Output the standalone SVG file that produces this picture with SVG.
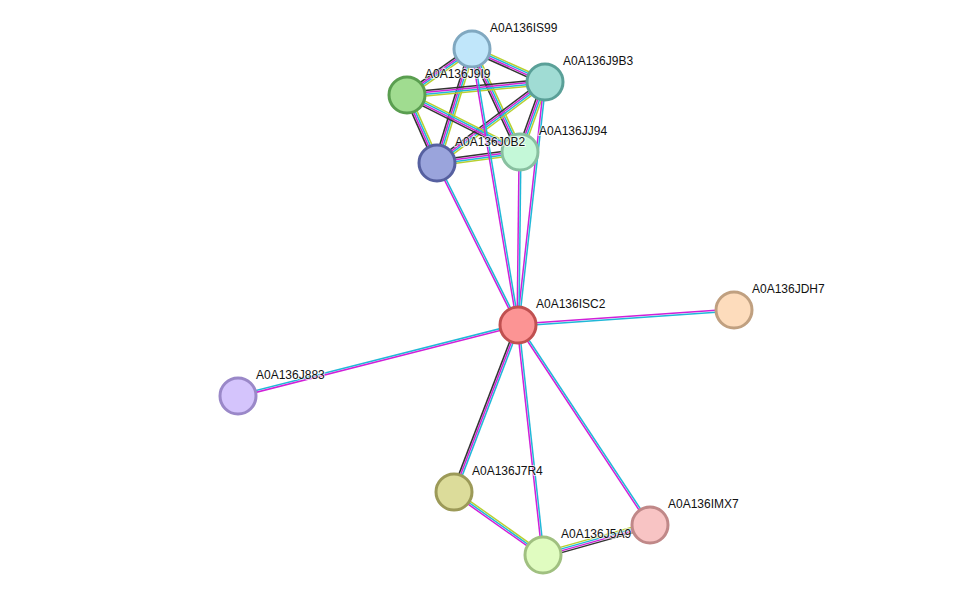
<svg xmlns="http://www.w3.org/2000/svg" width="976" height="601" viewBox="0 0 976 601">
<style>
.k{stroke:#333;stroke-width:1.5}.m{stroke:#d020d8;stroke-width:1.5}.c{stroke:#20b8d8;stroke-width:1.5}.y{stroke:#b8d030;stroke-width:1.5}
circle{stroke-width:3}
text{font-family:"Liberation Sans",Arial,sans-serif;font-size:12px;fill:#111;stroke:#fff;stroke-width:2;stroke-opacity:0.7;paint-order:stroke}
</style>
<rect width="976" height="601" fill="#fff"/>
<g id="connectors" fill="none">
<g><line class="y" x1="472" y1="49" x2="545" y2="82" transform="translate(1.11,-2.46)"/><line class="c" x1="472" y1="49" x2="545" y2="82" transform="translate(0.37,-0.82)"/><line class="m" x1="472" y1="49" x2="545" y2="82" transform="translate(-0.37,0.82)"/><line class="k" x1="472" y1="49" x2="545" y2="82" transform="translate(-1.11,2.46)"/></g>
<g><line class="y" x1="472" y1="49" x2="407" y2="95" transform="translate(1.56,2.2)"/><line class="c" x1="472" y1="49" x2="407" y2="95" transform="translate(0.52,0.73)"/><line class="m" x1="472" y1="49" x2="407" y2="95" transform="translate(-0.52,-0.73)"/><line class="k" x1="472" y1="49" x2="407" y2="95" transform="translate(-1.56,-2.2)"/></g>
<g><line class="y" x1="472" y1="49" x2="437" y2="163" transform="translate(2.58,0.8)"/><line class="c" x1="472" y1="49" x2="437" y2="163" transform="translate(0.86,0.27)"/><line class="m" x1="472" y1="49" x2="437" y2="163" transform="translate(-0.86,-0.27)"/><line class="k" x1="472" y1="49" x2="437" y2="163" transform="translate(-2.58,-0.8)"/></g>
<g><line class="y" x1="472" y1="49" x2="520" y2="152" transform="translate(2.45,-1.14)"/><line class="c" x1="472" y1="49" x2="520" y2="152" transform="translate(0.82,-0.38)"/><line class="m" x1="472" y1="49" x2="520" y2="152" transform="translate(-0.82,0.38)"/><line class="k" x1="472" y1="49" x2="520" y2="152" transform="translate(-2.45,1.14)"/></g>
<g><line class="y" x1="545" y1="82" x2="407" y2="95" transform="translate(0.26,2.68)"/><line class="c" x1="545" y1="82" x2="407" y2="95" transform="translate(0.09,0.9)"/><line class="m" x1="545" y1="82" x2="407" y2="95" transform="translate(-0.09,-0.9)"/><line class="k" x1="545" y1="82" x2="407" y2="95" transform="translate(-0.26,-2.68)"/></g>
<g><line class="y" x1="545" y1="82" x2="437" y2="163" transform="translate(1.62,2.16)"/><line class="c" x1="545" y1="82" x2="437" y2="163" transform="translate(0.54,0.72)"/><line class="m" x1="545" y1="82" x2="437" y2="163" transform="translate(-0.54,-0.72)"/><line class="k" x1="545" y1="82" x2="437" y2="163" transform="translate(-1.62,-2.16)"/></g>
<g><line class="y" x1="545" y1="82" x2="520" y2="152" transform="translate(2.55,0.92)"/><line class="c" x1="545" y1="82" x2="520" y2="152" transform="translate(0.85,0.31)"/><line class="m" x1="545" y1="82" x2="520" y2="152" transform="translate(-0.85,-0.31)"/><line class="k" x1="545" y1="82" x2="520" y2="152" transform="translate(-2.55,-0.92)"/></g>
<g><line class="y" x1="407" y1="95" x2="437" y2="163" transform="translate(2.48,-1.1)"/><line class="c" x1="407" y1="95" x2="437" y2="163" transform="translate(0.83,-0.37)"/><line class="m" x1="407" y1="95" x2="437" y2="163" transform="translate(-0.83,0.37)"/><line class="k" x1="407" y1="95" x2="437" y2="163" transform="translate(-2.48,1.1)"/></g>
<g><line class="y" x1="407" y1="95" x2="520" y2="152" transform="translate(1.22,-2.4)"/><line class="c" x1="407" y1="95" x2="520" y2="152" transform="translate(0.41,-0.8)"/><line class="m" x1="407" y1="95" x2="520" y2="152" transform="translate(-0.41,0.8)"/><line class="k" x1="407" y1="95" x2="520" y2="152" transform="translate(-1.22,2.4)"/></g>
<g><line class="y" x1="437" y1="163" x2="520" y2="152" transform="translate(0.36,2.68)"/><line class="c" x1="437" y1="163" x2="520" y2="152" transform="translate(0.12,0.9)"/><line class="m" x1="437" y1="163" x2="520" y2="152" transform="translate(-0.12,-0.9)"/><line class="k" x1="437" y1="163" x2="520" y2="152" transform="translate(-0.36,-2.68)"/></g>
<g><line class="m" x1="518" y1="325" x2="437" y2="163" transform="translate(-0.8,0.4)"/><line class="c" x1="518" y1="325" x2="437" y2="163" transform="translate(0.8,-0.4)"/></g>
<g><line class="m" x1="518" y1="325" x2="472" y2="49" transform="translate(-0.88,0.15)"/><line class="c" x1="518" y1="325" x2="472" y2="49" transform="translate(0.88,-0.15)"/></g>
<g><line class="m" x1="518" y1="325" x2="545" y2="82" transform="translate(-0.9,-0.1)"/><line class="c" x1="518" y1="325" x2="545" y2="82" transform="translate(0.9,0.1)"/></g>
<g><line class="m" x1="518" y1="325" x2="520" y2="152" transform="translate(-0.9,0)"/><line class="c" x1="518" y1="325" x2="520" y2="152" transform="translate(0.9,0)"/></g>
<g><line class="m" x1="518" y1="325" x2="734" y2="310" transform="translate(-0.06,-0.9)"/><line class="c" x1="518" y1="325" x2="734" y2="310" transform="translate(0.06,0.9)"/></g>
<g><line class="c" x1="518" y1="325" x2="238" y2="396" transform="translate(-0.22,-0.87)"/><line class="m" x1="518" y1="325" x2="238" y2="396" transform="translate(0.22,0.87)"/></g>
<g><line class="c" x1="518" y1="325" x2="454" y2="492" transform="translate(1.68,0.64)"/><line class="m" x1="518" y1="325" x2="454" y2="492"/><line class="k" x1="518" y1="325" x2="454" y2="492" transform="translate(-1.68,-0.64)"/></g>
<g><line class="c" x1="518" y1="325" x2="543" y2="555" transform="translate(0.9,-0.1)"/><line class="m" x1="518" y1="325" x2="543" y2="555" transform="translate(-0.9,0.1)"/></g>
<g><line class="m" x1="518" y1="325" x2="650" y2="525" transform="translate(-0.75,0.5)"/><line class="c" x1="518" y1="325" x2="650" y2="525" transform="translate(0.75,-0.5)"/></g>
<g><line class="y" x1="454" y1="492" x2="543" y2="555" transform="translate(1.04,-1.47)"/><line class="c" x1="454" y1="492" x2="543" y2="555"/><line class="m" x1="454" y1="492" x2="543" y2="555" transform="translate(-1.04,1.47)"/></g>
<g><line class="y" x1="543" y1="555" x2="650" y2="525" transform="translate(-0.74,-2.6)"/><line class="c" x1="543" y1="555" x2="650" y2="525" transform="translate(-0.25,-0.87)"/><line class="m" x1="543" y1="555" x2="650" y2="525" transform="translate(0.25,0.87)"/><line class="k" x1="543" y1="555" x2="650" y2="525" transform="translate(0.74,2.6)"/></g>
</g>
<g id="IS99"><circle cx="472" cy="49" r="18" fill="#c0e6fa" stroke="#80a8c0"/><text x="490" y="32">A0A136IS99</text></g>
<g id="J9B3"><circle cx="545" cy="82" r="18" fill="#a0dcd4" stroke="#5aa098"/><text x="563" y="65">A0A136J9B3</text></g>
<g id="J9I9"><circle cx="407" cy="95" r="18" fill="#a0dc90" stroke="#5a9e50"/><text x="425" y="78">A0A136J9I9</text></g>
<g id="JJ94"><circle cx="520" cy="152" r="18" fill="#c4f8d8" stroke="#88c0a0"/><text x="539" y="135">A0A136JJ94</text></g>
<g id="J0B2"><circle cx="437" cy="163" r="18" fill="#9aa4dc" stroke="#5660a0"/><text x="455" y="146">A0A136J0B2</text></g>
<g id="ISC2"><circle cx="518" cy="325" r="18" fill="#fc9494" stroke="#c05050"/><text x="536" y="308">A0A136ISC2</text></g>
<g id="JDH7"><circle cx="734" cy="310" r="18" fill="#fddcbc" stroke="#c0a080"/><text x="752" y="293">A0A136JDH7</text></g>
<g id="J883"><circle cx="238" cy="396" r="18" fill="#d4c4fc" stroke="#9a88c8"/><text x="256" y="379">A0A136J883</text></g>
<g id="J7R4"><circle cx="454" cy="492" r="18" fill="#dcdc9a" stroke="#9c9a58"/><text x="472" y="475">A0A136J7R4</text></g>
<g id="J5A9"><circle cx="543" cy="555" r="18" fill="#e0fcc0" stroke="#a0c080"/><text x="561" y="538">A0A136J5A9</text></g>
<g id="IMX7"><circle cx="650" cy="525" r="18" fill="#f8c4c4" stroke="#c08888"/><text x="668" y="508">A0A136IMX7</text></g>
</svg>
